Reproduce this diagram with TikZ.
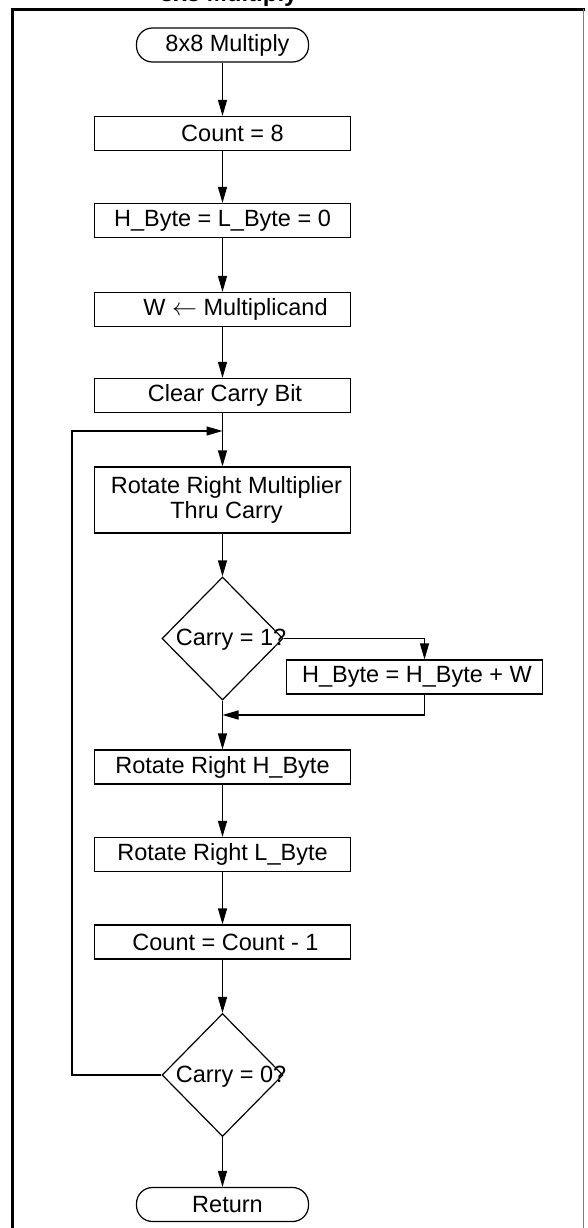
\documentclass[tikz,border=0pt]{standalone}
\usepackage{fontspec}
\setmainfont{Liberation Sans}
\usetikzlibrary{arrows.meta,shapes.geometric}
\begin{document}
\begin{tikzpicture}[x=1pt,y=-1pt,
  every node/.style={font=\fontsize{23.5}{25.7}\selectfont},
  proc/.style={draw, line width=1.2pt, minimum width=256pt, minimum height=34pt, inner sep=0pt, align=center},
  term/.style={draw, line width=1.2pt, rounded corners=16pt, minimum width=172pt, minimum height=34pt, inner sep=0pt},
  dec/.style={draw, diamond, line width=1.2pt, minimum width=121pt, minimum height=123pt, inner sep=0pt},
  txt/.style={inner sep=0pt},
  arr/.style={line width=1.2pt, -{Triangle[length=16pt,width=9pt]}},
  ln/.style={line width=1.2pt}]
\useasboundingbox (0,0) rectangle (587,1228);
\clip (0,0) rectangle (587,1228);
% frame
\draw[line width=3pt] (12,1240) -- (12,9.5) -- (585,9.5);
\draw[line width=1.5pt, gray] (583.5,9.5) -- (583.5,1240);
% clipped title
\node[txt, anchor=base west, font=\bfseries\fontsize{24}{28}\selectfont] (title) at (160,2) {8x8 Multiply};
% nodes
\node[term] (start) at (222.5,45) {\hspace*{10pt}8x8 Multiply};
\node[proc] (count) at (222.5,133.5) {\hspace*{20pt}Count = 8};
\node[proc] (hl) at (222.5,220.5) {H\_Byte = L\_Byte = 0};
\node[proc] (w) at (222.5,309.5) {\hspace*{26pt}W $\leftarrow$ Multiplicand};
\node[proc] (clr) at (222.5,395.5) {\hspace*{5pt}Clear Carry Bit};
\node[proc, minimum height=66pt] (rot) at (222.5,500) {\hspace*{8pt}Rotate Right Multiplier\\\hspace*{8pt}Thru Carry};
\node[dec] (d1) at (222.5,638.5) {};
\node[txt] (t1) at (231,640) {Carry = 1?};
\node[proc] (hb) at (414.5,677) {\hspace*{5pt}H\_Byte = H\_Byte + W};
\node[proc] (rh) at (222.5,767) {Rotate Right H\_Byte};
\node[proc] (rl) at (222.5,854.5) {Rotate Right L\_Byte};
\node[proc] (cnt) at (222.5,942) {\hspace*{6pt}Count = Count - 1};
\node[dec] (d2) at (222.5,1075) {};
\node[txt] (t2) at (231,1077) {Carry = 0?};
\node[term] (ret) at (222.5,1204.5) {\hspace*{10pt}Return};
\coordinate (j1) at (222.5,715);
\coordinate (j2) at (222.5,431);
% connectors
\draw[arr] (start.south) -- (count.north);
\draw[arr] (count.south) -- (hl.north);
\draw[arr] (hl.south) -- (w.north);
\draw[arr] (w.south) -- (clr.north);
\draw[arr] (clr.south) -- (rot.north);
\draw[arr] (rot.south) -- (d1.north);
\draw[arr] (d1.east) -| ([xshift=10pt]hb.north);
\draw[arr] (d1.south) -- (rh.north);
\draw[arr] ([xshift=10pt]hb.south) |- (j1);
\draw[arr] (rh.south) -- (rl.north);
\draw[arr] (rl.south) -- (cnt.north);
\draw[arr] (cnt.south) -- (d2.north);
\draw[arr] (d2.south) -- (ret.north);
\draw[arr] (d2.west) -- ++(-89.5,0) |- (j2);
\end{tikzpicture}
\end{document}
